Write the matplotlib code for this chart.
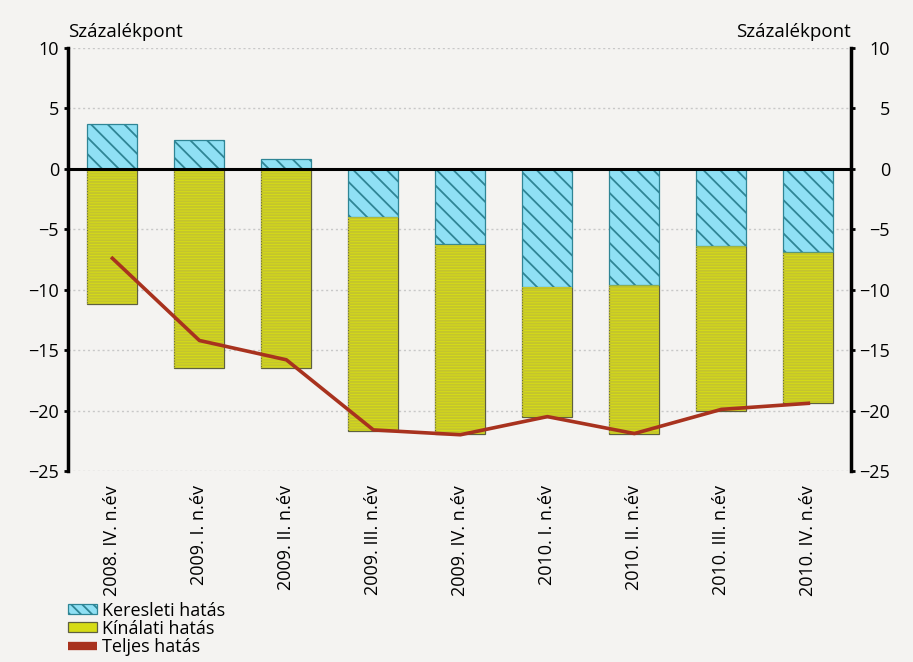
import matplotlib.pyplot as plt
from matplotlib.patches import Patch
from matplotlib.lines import Line2D
import numpy as np

plt.rcParams['font.family'] = ['Open Sans', 'DejaVu Sans']
plt.rcParams['hatch.linewidth'] = 1.3

categories = ['2008. IV. n.év', '2009. I. n.év', '2009. II. n.év', '2009. III. n.év',
              '2009. IV. n.év', '2010. I. n.év', '2010. II. n.év', '2010. III. n.év',
              '2010. IV. n.év']
keresleti = [3.7, 2.35, 0.8, -4.0, -6.2, -9.8, -9.6, -6.4, -6.9]
kinalati = [-11.2, -16.5, -16.5, -17.7, -15.7, -10.75, -12.3, -13.65, -12.5]
teljes = [-7.4, -14.2, -15.8, -21.6, -22.0, -20.5, -21.9, -19.9, -19.4]

bg = '#f4f3f1'
cyan = '#8fe0f4'
cyan_h = '#2f8595'
yellow = '#d6dc16'
yellow_h = '#c4c42e'
red = '#a8321e'

fig = plt.figure(figsize=(9.13, 6.62), dpi=100, facecolor=bg)
ax = fig.add_axes([0.0745, 0.2885, 0.8576, 0.639])
ax.set_facecolor(bg)

x = np.arange(len(categories))
w = 0.575
ker = np.array(keresleti)
kin = np.array(kinalati)
# supply bars start from 0 where demand is positive, otherwise below demand
kin_bottom = np.where(ker < 0, ker, 0)

ax.bar(x, kin, w, bottom=kin_bottom, color=yellow, edgecolor='#5e6040', linewidth=0.9, zorder=2)
ax.bar(x, kin, w, bottom=kin_bottom, color='none', edgecolor=yellow_h, hatch='------', linewidth=0, zorder=2.1)
ax.bar(x, ker, w, color=cyan, edgecolor=cyan_h, hatch='\\\\', linewidth=0.9, zorder=2)
ax.plot(x, teljes, color=red, lw=2.6, zorder=4)

ax.axhline(0, color='black', lw=2.2, zorder=3)
ax.set_xlim(-0.51, 8.49)
ax.set_ylim(-25, 10)
ax.set_yticks(range(-25, 11, 5))
ax.grid(axis='y', color='#c8c8c8', linestyle=(0, (1.5, 2)), lw=1, zorder=0)
ax.set_xticks(x)
ax.set_xticklabels(categories, rotation=90, fontsize=13)
ax.tick_params(axis='x', length=0, pad=10)
ax.tick_params(axis='y', direction='out', length=3, width=2, labelsize=13, pad=3.5)

for s in ['top', 'bottom']:
    ax.spines[s].set_visible(False)
ax.spines['left'].set_linewidth(2.5)
ax.spines['right'].set_visible(False)

ax2 = ax.twinx()
ax2.set_ylim(-25, 10)
ax2.set_yticks(range(-25, 11, 5))
ax2.tick_params(axis='y', direction='out', length=3, width=2, labelsize=13, pad=25)
for lab in ax2.get_yticklabels():
    lab.set_horizontalalignment('right')
for s in ['top', 'bottom', 'left']:
    ax2.spines[s].set_visible(False)
ax2.spines['right'].set_linewidth(2.5)

fig.text(0.0745, 0.952, 'Százalékpont', fontsize=13.5, ha='left', va='center')
fig.text(0.932, 0.952, 'Százalékpont', fontsize=13.5, ha='right', va='center')

handles = [Patch(facecolor=cyan, edgecolor=cyan_h, hatch='\\\\\\', lw=0.9),
           Patch(facecolor=yellow, edgecolor='#5e6040', lw=0.9),
           Line2D([], [], color=red, lw=6, solid_capstyle='butt')]
fig.legend(handles, ['Keresleti hatás', 'Kínálati hatás', 'Teljes hatás'],
           loc='upper left', bbox_to_anchor=(0.0745, 0.091), frameon=False,
           fontsize=13, handlelength=1.6, handleheight=0.5, labelspacing=0.0,
           handletextpad=0.3, borderaxespad=0, borderpad=0)

fig.savefig('out.png', dpi=100, facecolor=bg)
